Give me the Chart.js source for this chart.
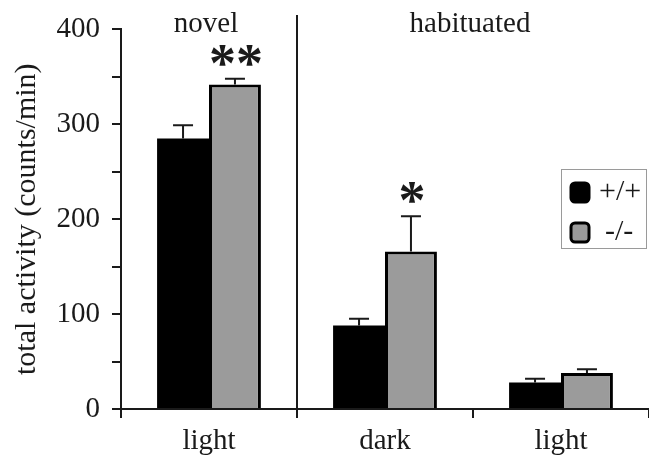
<!DOCTYPE html>
<html>
<head>
<meta charset="utf-8">
<script src="https://cdn.jsdelivr.net/npm/chart.js@4"></script>
<style>
  body { margin: 0; background: #fff; }
</style>
</head>
<body>
<canvas id="myChart" width="649" height="458"></canvas>
<script>
// data
const categories = ['light', 'dark', 'light'];
const groups = ['novel', 'habituated', 'habituated'];
const seriesLabels = ['+/+', '-/-'];
const wildType = [285, 88, 28];
const wildTypeErr = [14, 7, 4];
const knockout = [342, 166, 38];
const knockoutErr = [6, 37, 4];
const knockoutStars = ['**', '*', ''];
const yMax = 400;
const yStep = 50;
const yLabelEvery = 100;

const serif = 'Liberation Serif';
const ink = '#1a1a1a';

// upward error bars
const errorBars = {
    id: 'errorBars',
    afterDatasetsDraw(chart) {
        const ctx = chart.ctx;
        const y = chart.scales.y;
        chart.data.datasets.forEach((ds, i) => {
            const meta = chart.getDatasetMeta(i);
            meta.data.forEach((bar, j) => {
                const top = y.getPixelForValue(ds.data[j] + ds.errors[j]);
                ctx.save();
                ctx.strokeStyle = ink;
                ctx.lineWidth = 2;
                ctx.beginPath();
                ctx.moveTo(bar.x, bar.y);
                ctx.lineTo(bar.x, top);
                ctx.moveTo(bar.x - 10, top);
                ctx.lineTo(bar.x + 10, top);
                ctx.stroke();
                ctx.restore();
            });
        });
    }
};

// significance stars, group labels, separator and legend box
const extras = {
    id: 'extras',
    afterDraw(chart) {
        const ctx = chart.ctx;
        const x = chart.scales.x;
        const y = chart.scales.y;
        const area = chart.chartArea;
        ctx.save();

        // stars above the -/- bars
        const ko = chart.data.datasets[1];
        const meta = chart.getDatasetMeta(1);
        ctx.fillStyle = ink;
        ctx.textAlign = 'center';
        ctx.textBaseline = 'middle';
        ctx.font = 'bold 54px ' + serif;
        meta.data.forEach((bar, j) => {
            if (!knockoutStars[j]) return;
            const top = y.getPixelForValue(ko.data[j] + ko.errors[j]);
            ctx.fillText(knockoutStars[j], bar.x + 1, top - 12);
        });

        // group labels and separators
        ctx.font = '29px ' + serif;
        ctx.textBaseline = 'alphabetic';
        let start = 0;
        for (let i = 1; i <= groups.length; i++) {
            if (i === groups.length || groups[i] !== groups[start]) {
                const x0 = x.getPixelForValue(start);
                const x1 = x.getPixelForValue(i - 1);
                ctx.fillText(groups[start], (x0 + x1) / 2 - 3, 32);
                if (i < groups.length) {
                    const sx = (x.getPixelForValue(i - 1) + x.getPixelForValue(i)) / 2;
                    ctx.strokeStyle = ink;
                    ctx.lineWidth = 2;
                    ctx.beginPath();
                    ctx.moveTo(sx, 15);
                    ctx.lineTo(sx, area.bottom);
                    ctx.stroke();
                }
                start = i;
            }
        }

        // legend
        ctx.strokeStyle = '#9a9a9a';
        ctx.lineWidth = 1;
        ctx.strokeRect(561.5, 169.5, 85, 79);
        chart.data.datasets.forEach((ds, i) => {
            const cy = 192 + i * 40;
            ctx.beginPath();
            ctx.roundRect(571, cy - 9, 18, 19, 4);
            ctx.fillStyle = ds.backgroundColor;
            ctx.fill();
            ctx.strokeStyle = '#000';
            ctx.lineWidth = 3;
            ctx.stroke();
            ctx.fillStyle = ink;
            ctx.textAlign = 'left';
            ctx.textBaseline = 'middle';
            ctx.font = '30px ' + serif;
            ctx.fillText(ds.label, i === 0 ? 599 : 605, cy);
        });
        ctx.restore();
    }
};

const ctx = document.getElementById('myChart').getContext('2d');
const chart = new Chart(ctx, {
    type: 'bar',
    data: {
        labels: categories,
        datasets: [{
            label: seriesLabels[0],
            data: wildType,
            errors: wildTypeErr,
            backgroundColor: '#000000',
            borderColor: '#000000',
            borderWidth: 0
        }, {
            label: seriesLabels[1],
            data: knockout,
            errors: knockoutErr,
            backgroundColor: '#9b9b9b',
            borderColor: '#000000',
            borderWidth: 3,
            borderSkipped: 'bottom'
        }]
    },
    options: {
        responsive: false,
        animation: false,
        categoryPercentage: 0.59,
        barPercentage: 1.0,
        layout: { padding: { top: 28, left: 0, right: 0, bottom: 0 } },
        plugins: {
            legend: { display: false },
            tooltip: { enabled: false }
        },
        scales: {
            x: {
                grid: { offset: true, drawOnChartArea: false, tickLength: 9, color: ink, lineWidth: 2 },
                border: { display: true, color: ink, width: 2 },
                ticks: { color: ink, font: { family: serif, size: 29 }, padding: 6 },
                afterFit(scale) { scale.height = 49; }
            },
            y: {
                min: 0,
                max: yMax,
                grid: { drawOnChartArea: false, tickLength: 9, color: ink, lineWidth: 2 },
                border: { display: true, color: ink, width: 2 },
                ticks: {
                    stepSize: yStep,
                    color: ink,
                    padding: 12,
                    font: { family: serif, size: 29 },
                    callback: (v) => (v % yLabelEvery === 0 ? v : '')
                },
                title: {
                    display: true,
                    text: 'total activity (counts/min)',
                    color: ink,
                    font: { family: serif, size: 30 },
                    padding: { top: 9, bottom: 0 }
                },
                afterFit(scale) { scale.width = 121; }
            }
        }
    },
    plugins: [errorBars, extras]
});
</script>
</body>
</html>
